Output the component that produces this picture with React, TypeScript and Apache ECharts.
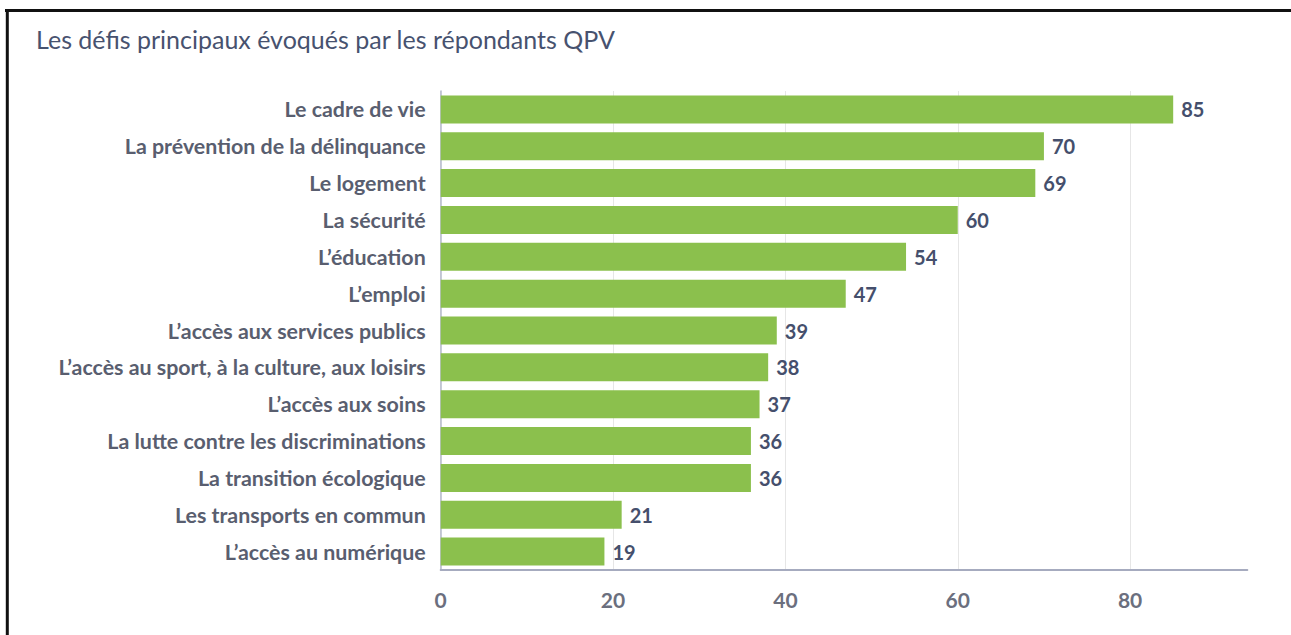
import React, { useEffect, useRef } from "react";
import * as echarts from "echarts";

const title = "Les défis principaux évoqués par les répondants QPV";
const categories = [
  "Le cadre de vie",
  "La prévention de la délinquance",
  "Le logement",
  "La sécurité",
  "L’éducation",
  "L’emploi",
  "L’accès aux services publics",
  "L’accès au sport, à la culture, aux loisirs",
  "L’accès aux soins",
  "La lutte contre les discriminations",
  "La transition écologique",
  "Les transports en commun",
  "L’accès au numérique",
];
const values = [85, 70, 69, 60, 54, 47, 39, 38, 37, 36, 36, 21, 19];
const xMin = 0;
const xMax = 93.6;
const xInterval = 20;

export default function App() {
  const ref = useRef<HTMLDivElement>(null);
  useEffect(() => {
    if (!ref.current) return;
    const chart = echarts.init(ref.current, null, { renderer: "svg" });
    chart.setOption({
      animation: false,
      backgroundColor: "#ffffff",
      textStyle: { fontFamily: "Lato" },
      title: {
        text: title,
        left: 31,
        top: 21,
        textStyle: {
          fontFamily: "Lato",
          fontSize: 25,
          fontWeight: "normal",
          color: "#47526f",
        },
      },
      graphic: [
        {
          type: "line",
          shape: { x1: 5, y1: 10.5, x2: 1291, y2: 10.5 },
          style: { stroke: "#111111", lineWidth: 3 },
        },
        {
          type: "line",
          shape: { x1: 7.3, y1: 9, x2: 7.3, y2: 635 },
          style: { stroke: "#111111", lineWidth: 3 },
        },
      ],
      grid: { left: 440.7, right: 43.7, top: 91, bottom: 65, containLabel: false },
      xAxis: {
        type: "value",
        min: xMin,
        max: xMax,
        interval: xInterval,
        axisLine: { show: true, lineStyle: { color: "#a6abbf", width: 2 } },
        axisTick: { show: false },
        axisLabel: {
          showMaxLabel: false,
          margin: 19,
          fontFamily: "Lato",
          fontSize: 21,
          fontWeight: "bold",
          color: "#6b6f7e",
        },
        splitLine: {
          show: true,
          showMaxLine: false,
          lineStyle: { color: "#e6e6e6", width: 1 },
        },
      },
      yAxis: {
        type: "category",
        inverse: true,
        data: categories,
        axisLine: { show: true, lineStyle: { color: "#b5bacb", width: 1.5 } },
        axisTick: { show: false },
        axisLabel: {
          margin: 15,
          fontFamily: "Lato",
          fontSize: 21.4,
          fontWeight: "bold",
          color: "#595e6f",
        },
      },
      series: [
        {
          type: "bar",
          data: values,
          barWidth: 28,
          itemStyle: { color: "#8bc04d" },
          label: {
            show: true,
            position: "right",
            distance: 8,
            fontFamily: "Lato",
            fontSize: 20,
            fontWeight: "bold",
            color: "#454f6c",
          },
        },
      ],
    });
    return () => chart.dispose();
  }, []);
  return (
    <div
      ref={ref}
      style={{ position: "fixed", left: 0, top: 0, width: 1291, height: 635 }}
    />
  );
}
